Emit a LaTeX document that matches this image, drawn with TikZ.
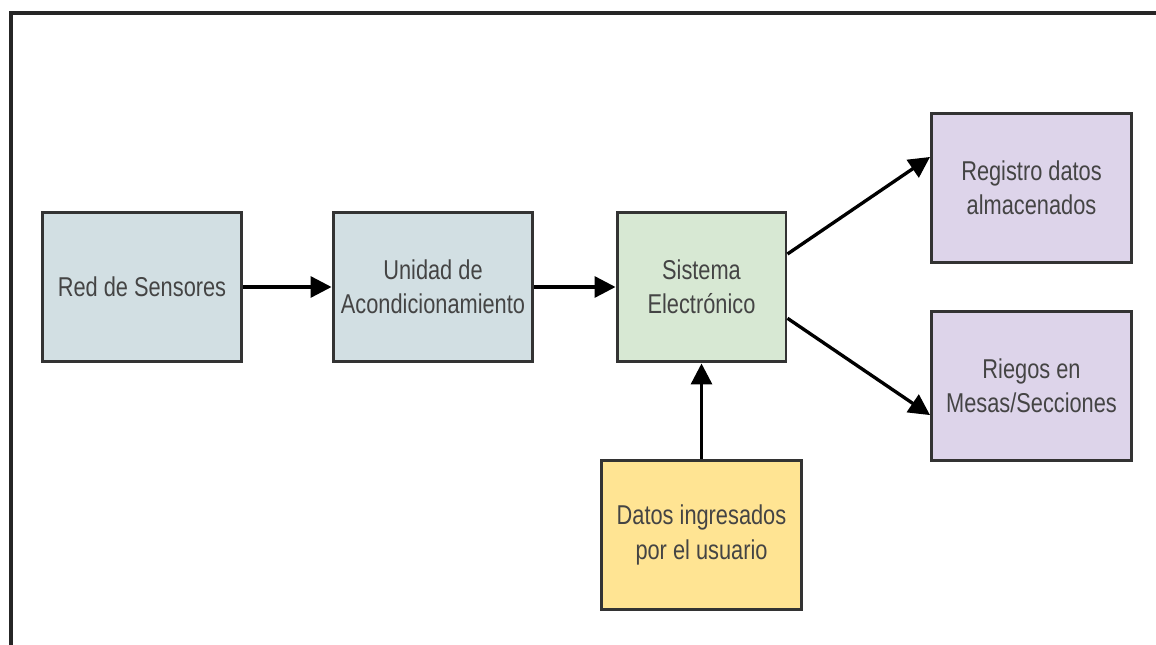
\documentclass[tikz,border=0pt]{standalone}
\usepackage{fontspec}
\setmainfont{Liberation Sans}[FakeStretch=0.8]
\usetikzlibrary{arrows.meta}

\definecolor{cajagris}{HTML}{D2DFE3}
\definecolor{cajaverde}{HTML}{D7E8D3}
\definecolor{cajaamarilla}{HTML}{FFE493}
\definecolor{cajalila}{HTML}{DDD4EA}
\definecolor{borde}{HTML}{333333}
\definecolor{texto}{HTML}{444444}

\tikzset{
  bloque/.style={draw=borde, line width=1.7pt, minimum width=4cm,
    minimum height=3cm, align=center, text=texto,
    font=\fontsize{15.5}{19.5}\selectfont},
  flecha/.style={line width=1.9pt, -{Triangle[length=0.42cm,width=0.42cm]}}
}

\begin{document}
\begin{tikzpicture}[x=0.02cm,y=-0.02cm]

    \useasboundingbox (0,0) rectangle (1156,645);
    \draw[line width=2.2pt, color=black!85] (11,650) -- (11,13) -- (1160,13);

    \node[bloque, fill=cajagris] (red) at (142,287) {Red de Sensores};
    \node[bloque, fill=cajagris] (unidad) at (433,287) {Unidad de\\Acondicionamiento};
    \node[bloque, fill=cajaverde, minimum width=3.38cm] (sistema) at (701.5,287) {Sistema\\Electrónico};
    \node[bloque, fill=cajaamarilla] (datos) at (701.5,535) {Datos ingresados\\por el usuario};
    \node[bloque, fill=cajalila] (registro) at (1031.5,188) {Registro datos\\almacenados};
    \node[bloque, fill=cajalila] (riegos) at (1031.5,386) {Riegos en\\Mesas/Secciones};

    \draw[flecha] (red) -- (unidad);
    \draw[flecha] (unidad) -- (sistema);
    \draw[flecha] (datos) -- (sistema);
    \draw[flecha] (sistema.21) -- (registro.163);
    \draw[flecha] (sistema.-20) -- (riegos.196);

\end{tikzpicture}
\end{document}
